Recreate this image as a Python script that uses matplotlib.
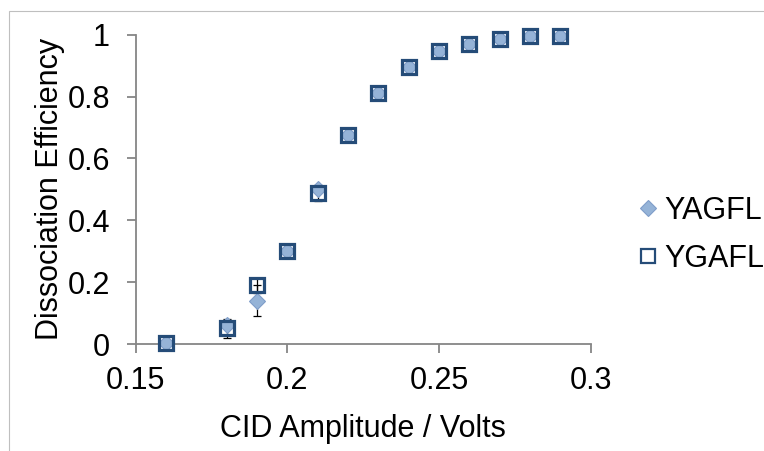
import numpy as np
import matplotlib.pyplot as plt
from matplotlib.patches import Rectangle

# data
amplitude = [0.16, 0.18, 0.19, 0.20, 0.21, 0.22, 0.23, 0.24, 0.25, 0.26, 0.27, 0.28, 0.29]
yagfl = [0.003, 0.063, 0.14, 0.30, 0.50, 0.676, 0.81, 0.896, 0.948, 0.97, 0.987, 0.996, 0.996]
yagfl_err = [0.002, 0.008, 0.05, 0.008, 0.01, 0.008, 0.008, 0.006, 0.006, 0.005, 0.004, 0.003, 0.003]
ygafl = [0.003, 0.051, 0.19, 0.30, 0.487, 0.676, 0.81, 0.896, 0.948, 0.97, 0.987, 0.996, 0.996]
ygafl_err = [0.002, 0.03, 0.024, 0.008, 0.026, 0.01, 0.01, 0.01, 0.008, 0.008, 0.006, 0.004, 0.004]

plt.rcParams['font.family'] = ['Liberation Sans', 'DejaVu Sans']

fig = plt.figure(figsize=(7.64, 4.51), dpi=100)
# chart-area border (only left and top edges fall inside the image)
fig.patches.append(Rectangle((9 / 764, -0.5), 2.0, 1 - 11 / 451 + 0.5, transform=fig.transFigure,
                             fill=False, edgecolor='#BFBFBF', linewidth=0.8))

ax = fig.add_axes([135.7 / 764, 1 - 344 / 451, 455 / 764, 309.3 / 451])

grey = '#868686'
dark = '#254C78'
light = '#95B3D7'

ax.errorbar(amplitude, yagfl, yerr=yagfl_err, fmt='none', ecolor='black',
            elinewidth=0.9, capsize=2.7, capthick=0.9, zorder=2)
ax.errorbar(amplitude, ygafl, yerr=ygafl_err, fmt='none', ecolor='black',
            elinewidth=0.9, capsize=2.7, capthick=0.9, zorder=2)
ax.plot(amplitude, yagfl, linestyle='none', marker='D', markersize=8,
        markerfacecolor=light, markeredgecolor='#7F9DC9', markeredgewidth=0.8,
        label='YAGFL', zorder=3)
ax.plot(amplitude, ygafl, linestyle='none', marker='s', markersize=10.5,
        markerfacecolor='none', markeredgecolor=dark, markeredgewidth=2.3,
        label='YGAFL', zorder=4)

ax.set_xlim(0.15, 0.3)
ax.set_ylim(0, 1)
ax.set_xticks([0.15, 0.2, 0.25, 0.3])
ax.set_xticklabels(['0.15', '0.2', '0.25', '0.3'])
ax.set_yticks([0, 0.2, 0.4, 0.6, 0.8, 1])
ax.set_yticklabels(['0', '0.2', '0.4', '0.6', '0.8', '1'])

for s in ['top', 'right']:
    ax.spines[s].set_visible(False)
for s in ['left', 'bottom']:
    ax.spines[s].set_color(grey)
    ax.spines[s].set_linewidth(1.3)
    ax.spines[s].set_zorder(1)
ax.tick_params(axis='both', direction='out', length=6.5, width=1.3, color=grey,
               labelsize=22, pad=9)
ax.tick_params(axis='y', pad=12)
for ln in ax.lines:
    ln.set_clip_on(False)
for c in ax.collections:
    c.set_clip_on(False)

ax.set_xlabel('CID Amplitude / Volts', fontsize=22, labelpad=13)
ax.set_ylabel('Dissociation Efficiency', fontsize=22, labelpad=2)

leg = fig.legend(loc='center left', bbox_to_anchor=(637 / 764, 1 - 235 / 451),
                 frameon=False, fontsize=22, markerscale=1.0, handlelength=0.7,
                 handletextpad=0.2, labelspacing=0.6, borderaxespad=0, borderpad=0)
leg.legend_handles[1].set_markeredgewidth(1.6)
leg.legend_handles[1].set_markersize(10)

fig.savefig('out.png', dpi=100)
